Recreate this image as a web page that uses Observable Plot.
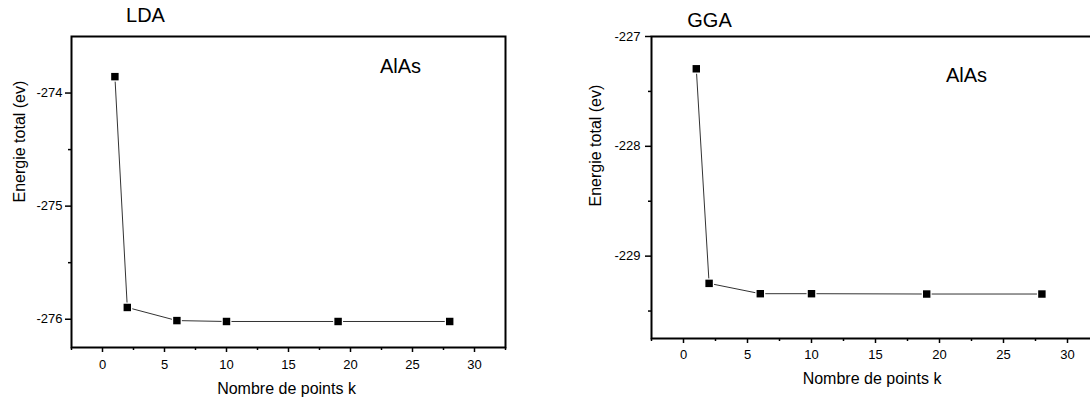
<!DOCTYPE html>
<html>
<head>
<meta charset="utf-8">
<script src="https://cdn.jsdelivr.net/npm/d3@7"></script>
<script src="https://cdn.jsdelivr.net/npm/@observablehq/plot@0.6"></script>
<style>
  html, body { margin: 0; padding: 0; background: #fff; }
  #wrap { position: relative; width: 1090px; height: 400px; overflow: hidden; background: #fff; }
  #wrap svg { position: absolute; top: 0; }
</style>
</head>
<body>
<div id="wrap"></div>
<script>
// ---- data ----
const kPoints = [1, 2, 6, 10, 19, 28];
const ldaEnergy = [-273.855, -275.896, -276.012, -276.02, -276.02, -276.02];
const ggaEnergy = [-227.294, -229.248, -229.342, -229.342, -229.345, -229.345];

const xMajorTicks = [0, 5, 10, 15, 20, 25, 30];
const xMinorTicks = [-2.5, 2.5, 7.5, 12.5, 17.5, 22.5, 27.5, 32.5];
const ldaMajorTicks = [-274, -275, -276];
const ldaMinorTicks = [-274.5, -275.5];
const ggaMajorTicks = [-227, -228, -229];
const ggaMinorTicks = [-227.5, -228.5, -229.5];

const xLabel = "Nombre de points k";
const yLabel = "Energie total (ev)";
const material = "AlAs";

const FONT = "'Liberation Sans', Arial, Helvetica, sans-serif";

function panel(cfg) {
  const data = kPoints.map((k, i) => ({k, e: cfg.energy[i]}));
  return Plot.plot({
    width: cfg.width,
    height: 400,
    marginLeft: cfg.ml, marginRight: cfg.mr, marginTop: cfg.mt, marginBottom: cfg.mb,
    x: {domain: [-2.5, 32.5]},
    y: {domain: cfg.yDomain},
    style: {fontFamily: FONT, fontSize: "13px", color: "#000", background: "transparent", overflow: "visible", maxWidth: "none"},
    marks: [
      Plot.axisX({ticks: xMajorTicks, tickSize: 5, tickPadding: cfg.xPad, tickFormat: d => String(d), label: null, strokeWidth: 1.5, fontSize: 13}),
      Plot.axisX({ticks: xMinorTicks, tickSize: 3, tickFormat: () => "", label: null, strokeWidth: 1.5}),
      Plot.axisY({ticks: cfg.yMajor, tickSize: 6, tickPadding: cfg.yPad, tickFormat: d => String(d), label: null, strokeWidth: 1.5, fontSize: 13}),
      Plot.axisY({ticks: cfg.yMinor, tickSize: 3, tickFormat: () => "", label: null, strokeWidth: 1.5}),
      Plot.frame({stroke: "#000", strokeWidth: 2}),
      Plot.line(data, {x: "k", y: "e", stroke: "#333", strokeWidth: 1}),
      Plot.dot(data, {x: "k", y: "e", symbol: "square", r: 5.6, fill: "#fff"}),
      Plot.dot(data, {x: "k", y: "e", symbol: "square", r: 4.2, fill: "#000"}),
      Plot.text([cfg.title], {frameAnchor: "top-left", lineAnchor: "middle", dx: cfg.titleDx, dy: cfg.titleDy, fontSize: 20, textAnchor: "middle", fill: "#000"}),
      Plot.text([material], {frameAnchor: "top-right", lineAnchor: "middle", dx: cfg.matDx, dy: cfg.matDy, fontSize: 20, textAnchor: "middle", fill: "#000"}),
      Plot.text([xLabel], {frameAnchor: "bottom", lineAnchor: "middle", dx: cfg.xlDx, dy: cfg.xlDy, fontSize: 16, fill: "#000"}),
      Plot.text([yLabel], {frameAnchor: "left", lineAnchor: "middle", rotate: -90, dx: cfg.ylDx, dy: cfg.ylDy, fontSize: 16, fill: "#000"})
    ]
  });
}

const wrap = document.getElementById("wrap");

const left = panel({
  energy: ldaEnergy, width: 540, ml: 71, mr: 35, mt: 36, mb: 53,
  yDomain: [-276.25, -273.5], yMajor: ldaMajorTicks, yMinor: ldaMinorTicks,
  xPad: 7, yPad: 3,
  title: "LDA", titleDx: 74, titleDy: -20.5,
  matDx: -105, matDy: 30,
  xlDx: -2, xlDy: 41,
  ylDx: -52, ylDy: 10.5
});
left.style.left = "0px";
wrap.appendChild(left);

const right = panel({
  energy: ggaEnergy, width: 570, ml: 111, mr: 11, mt: 36, mb: 62,
  yDomain: [-229.75, -227], yMajor: ggaMajorTicks, yMinor: ggaMinorTicks,
  xPad: 6, yPad: 5,
  title: "GGA", titleDx: 58, titleDy: -15.5,
  matDx: -133, matDy: 39,
  xlDx: -3.5, xlDy: 40,
  ylDx: -56, ylDy: 19
});
right.style.left = "540px";
wrap.appendChild(right);
</script>
</body>
</html>
